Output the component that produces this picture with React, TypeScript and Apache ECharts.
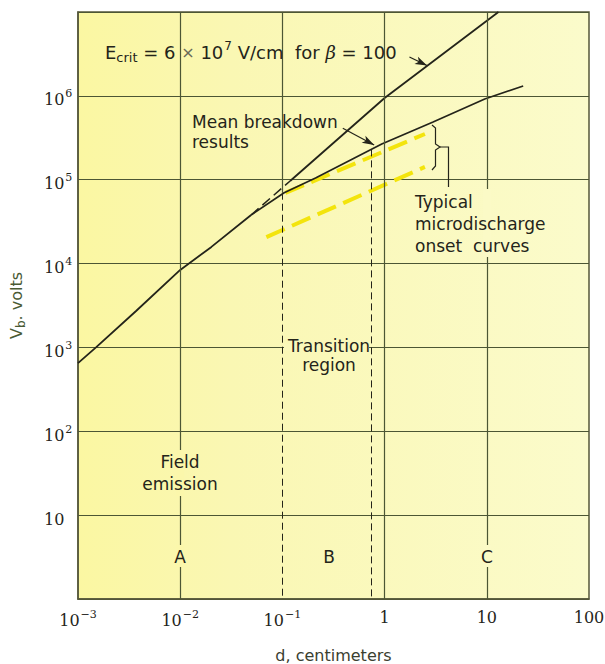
import React, { useEffect, useRef } from 'react';
import * as echarts from 'echarts';

// ---- data (d in cm, V in volts) ----
const lowerCurve: number[][] = [[0.001, 650], [0.0015, 1000], [0.0037, 2720], [0.01, 8400], [0.0202, 15800], [0.0494, 38000]];
const meanCurve: number[][] = [[0.0494, 38000], [0.104, 70000], [0.211, 105000], [0.938, 267000], [2.98, 488000], [9.55, 918000], [22.7, 1310000]];
const betaDashed: number[][] = [[0.0494, 38000], [0.119, 96600]];
const betaSolid: number[][] = [[0.119, 96600], [1.0, 942000], [13.0, 1e7]];
const onsetUpper: number[][] = [[0.107, 69500], [2.48, 351000]];
const onsetLower: number[][] = [[0.0697, 20700], [2.48, 142000]];
const solidGridX = [0.01, 1, 10];
const transitionStart = { d: 0.1, top: 70000 };
const transitionEnd = { d: 0.74, top: 230000 };
const xTickLabels: Record<number, string> = { [-3]: '{b|10}{s|−3}', [-2]: '{b|10}{s|−2}', [-1]: '{b|10}{s|−1}', 0: '{b|1}', 1: '{b|10}', 2: '{b|100}' };
const yTickLabels: Record<number, string> = { 1: '{b|10}', 2: '{b|10}{s|2}', 3: '{b|10}{s|3}', 4: '{b|10}{s|4}', 5: '{b|10}{s|5}', 6: '{b|10}{s|6}' };

const INK = '#24241a';
const GRID = '#4c5634';
const YELLOW = '#f3e40c';
const SANS = 'DejaVu Sans';
const SERIF = 'DejaVu Serif';
const BG_LEFT = '#fbf7a2';
const BG_MID = '#faf7b3';
const BG_RIGHT = '#fbfbcb';

const tickRich = {
  b: { fontFamily: SERIF, fontSize: 16, color: INK },
  s: { fontFamily: SERIF, fontSize: 11, color: INK, padding: [0, 0, 12, 1] },
};

export default function App() {
  const ref = useRef<HTMLDivElement>(null);
  useEffect(() => {
    const chart = echarts.init(ref.current!, null, { renderer: 'svg' });
    const lineSeries = (data: number[][], style: any, z = 3) => ({
      type: 'line', data, showSymbol: false, symbol: 'none', silent: true, z,
      lineStyle: style, animation: false,
    });
    const mask = (x: number, y: number, w: number, h: number, fill: string) => ({
      type: 'rect', z: 40, silent: true, shape: { x, y, width: w, height: h }, style: { fill },
    });
    const annot = (x: number, y: number, text: string, lineHeight: number, align = 'left') => ({
      type: 'text', x, y, z: 50, silent: true,
      style: { text, fontFamily: SANS, fontSize: 17, lineHeight, fill: INK, align, verticalAlign: 'top' },
    });
    const option: any = {
      animation: false,
      backgroundColor: '#ffffff',
      grid: {
        left: 78, right: 16, top: 12, bottom: 65, show: true,
        containLabel: false, outerBoundsMode: 'none',
        backgroundColor: new echarts.graphic.LinearGradient(0, 0, 1, 0, [
          { offset: 0, color: BG_LEFT },
          { offset: 0.3, color: BG_MID },
          { offset: 1, color: BG_RIGHT },
        ]),
        borderColor: '#55573a', borderWidth: 1.5,
      },
      xAxis: {
        type: 'log', logBase: 10, min: 0.001, max: 100, interval: 1, splitNumber: 5,
        axisLine: { show: true, lineStyle: { color: '#55573a', width: 1.5 } },
        axisTick: { show: false },
        splitLine: { show: false },
        axisLabel: {
          margin: 10,
          formatter: (v: number) => xTickLabels[Math.round(Math.log10(v))] ?? '',
          rich: tickRich,
        },
        name: 'd, centimeters', nameLocation: 'middle', nameGap: 48,
        nameTextStyle: { fontFamily: SANS, fontSize: 16, color: '#3a4030' },
      },
      yAxis: {
        type: 'log', logBase: 10, min: 1, max: 1e7, interval: 1, splitNumber: 7,
        axisLine: { show: true, lineStyle: { color: '#55573a', width: 1.5 } },
        axisTick: { show: false },
        splitLine: { show: true, lineStyle: { color: GRID, width: 1.2 } },
        axisLabel: {
          margin: 34, align: 'left', padding: [8, 0, 0, 0],
          formatter: (v: number) => yTickLabels[Math.round(Math.log10(v))] ?? '',
          rich: tickRich,
        },
        name: '{v|V}{sub|b}{v|. volts}', nameLocation: 'middle', nameGap: 51,
        nameTextStyle: {
          rich: {
            v: { fontFamily: SANS, fontSize: 16, color: '#4a5a34' },
            sub: { fontFamily: SANS, fontSize: 12, color: '#4a5a34', padding: [9, 0, 0, 0] },
          },
        },
      },
      series: [
        {
          type: 'line', data: [], z: 1, silent: true,
          markLine: {
            silent: true, symbol: 'none', label: { show: false }, animation: false,
            lineStyle: { color: GRID, width: 1.2, type: 'solid' },
            data: [
              ...solidGridX.map((d) => ({ xAxis: d })),
              [{ coord: [transitionStart.d, 1e7] }, { coord: [transitionStart.d, transitionStart.top] }],
              [{ coord: [transitionStart.d, transitionStart.top], lineStyle: { color: INK, width: 1, type: [7, 4] } }, { coord: [transitionStart.d, 1] }],
              [{ coord: [transitionEnd.d, transitionEnd.top], lineStyle: { color: INK, width: 1, type: [7, 4] } }, { coord: [transitionEnd.d, 1] }],
            ],
          },
        },
        lineSeries(onsetUpper, { color: YELLOW, width: 4, type: [20, 8], cap: 'butt' }, 2),
        lineSeries(onsetLower, { color: YELLOW, width: 4, type: [20, 8], cap: 'butt' }, 2),
        lineSeries(lowerCurve, { color: INK, width: 1.8 }),
        lineSeries(meanCurve, { color: INK, width: 1.7 }),
        lineSeries(betaDashed, { color: INK, width: 1.5, type: [10, 5] }),
        {
          ...lineSeries(betaSolid, { color: INK, width: 1.8 }),
          markLine: {
            silent: true, symbol: ['none', 'arrow'], symbolSize: [6, 12], label: { show: false }, animation: false,
            lineStyle: { color: INK, width: 1.2, type: 'solid' },
            data: [
              [{ coord: [1.75, 2.9e6] }, { coord: [2.6, 2.3e6] }],
              [{ coord: [0.39, 4.1e5] }, { coord: [0.79, 2.6e5] }],
            ],
          },
        },
      ],
      graphic: [
        // masks where the labels interrupt grid lines
        mask(483, 189, 8, 68, '#fbfac6'),
        mask(176, 450, 8, 46, '#fbf7ab'),
        mask(176, 545, 8, 22, '#fbf7ab'),
        mask(483, 545, 8, 22, '#fbfac6'),
        mask(284, 344, 85, 7, '#faf8ba'),
        {
          type: 'text', x: 105, y: 52, z: 50, silent: true,
          style: {
            text: '{t|E}{sub|crit}{t| = 6 }{x|×}{t| 10}{sup|7}{t| V/cm  for }{beta|β}{t| = 100}',
            verticalAlign: 'middle', align: 'left',
            rich: {
              t: { fontFamily: SANS, fontSize: 18, fill: INK },
              x: { fontFamily: SANS, fontSize: 16, fill: '#6a6a58' },
              sub: { fontFamily: SANS, fontSize: 13, fill: INK, padding: [10, 0, 0, 0] },
              sup: { fontFamily: SANS, fontSize: 12, fill: INK, padding: [0, 0, 13, 1] },
              beta: { fontFamily: SERIF, fontStyle: 'italic', fontSize: 18, fill: INK },
            },
          },
        },
        annot(192, 112, 'Mean breakdown\nresults', 20),
        annot(415, 191, 'Typical\nmicrodischarge\nonset  curves', 22),
        annot(329, 336, 'Transition\nregion', 19, 'center'),
        annot(180, 451, 'Field\nemission', 22, 'center'),
        ...([['A', 180], ['B', 329], ['C', 487]] as [string, number][]).map(([t, x]) => annot(x, 547, t, 20, 'center')),
        {
          type: 'polyline', z: 50, silent: true,
          shape: { points: [[432, 125], [435.5, 128], [435.5, 144], [440, 147], [435.5, 150], [435.5, 166], [432, 170]] },
          style: { stroke: INK, lineWidth: 1.2, fill: null },
        },
        {
          type: 'polyline', z: 50, silent: true,
          shape: { points: [[440, 147], [448.5, 147], [448.5, 187]] },
          style: { stroke: INK, lineWidth: 1.2, fill: null },
        },
      ],
    };
    chart.setOption(option);
    return () => chart.dispose();
  }, []);
  return <div ref={ref} style={{ position: 'fixed', left: 0, top: 0, width: 605, height: 664, background: '#fff' }} />;
}
